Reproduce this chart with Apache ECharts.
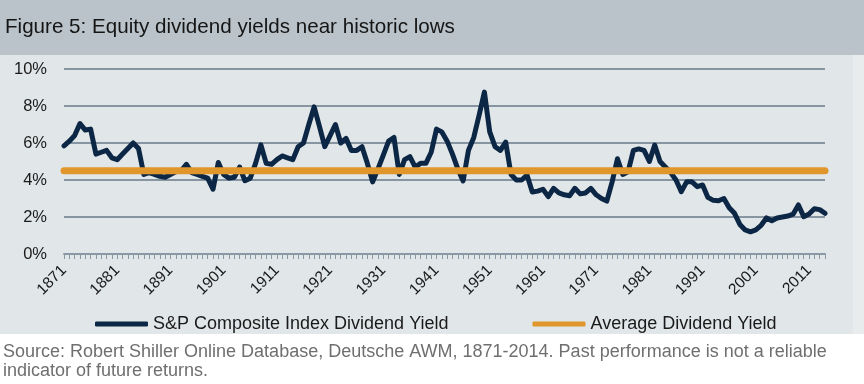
<!DOCTYPE html>
<html>
<head>
<meta charset="utf-8">
<script src="https://cdn.jsdelivr.net/npm/echarts@6/dist/echarts.min.js"></script>
<style>html,body{margin:0;padding:0;background:#fff;}#c{width:864px;height:384px;}</style>
</head>
<body>
<div id="c"></div>
<script>
const startYear = 1871;
const endYear = 2014;
const years = [];
for (let y = startYear; y <= endYear; y++) years.push(String(y));

const dividendYield = [
  5.85, 6.1, 6.4, 7.05, 6.7, 6.75, 5.4, 5.5, 5.6, 5.2,
  5.1, 5.4, 5.7, 6.0, 5.7, 4.3, 4.4, 4.3, 4.2, 4.15,
  4.3, 4.45, 4.5, 4.85, 4.4, 4.3, 4.2, 4.1, 3.5, 4.95,
  4.3, 4.1, 4.15, 4.7, 3.96, 4.1, 4.9, 5.9, 4.9, 4.85,
  5.1, 5.3, 5.2, 5.1, 5.8, 6.0, 7.0, 7.95, 6.9, 5.8,
  6.4, 7.0, 6.0, 6.25, 5.6, 5.6, 5.8, 4.9, 3.9, 4.6,
  5.35, 6.1, 6.3, 4.3, 5.1, 5.26, 4.7, 4.9, 4.9, 5.5,
  6.75, 6.6, 6.1, 5.4, 4.6, 3.95, 5.6, 6.3, 7.5, 8.75,
  6.6, 5.8, 5.6, 6.05, 4.3, 4.0, 4.0, 4.27, 3.35, 3.4,
  3.5, 3.1, 3.55, 3.3, 3.2, 3.15, 3.55, 3.25, 3.3, 3.55,
  3.2, 3.0, 2.86, 3.9, 5.15, 4.3, 4.45, 5.6, 5.68, 5.6,
  5.0, 5.89, 5.0, 4.7, 4.4, 4.0, 3.37, 3.9, 3.9, 3.64,
  3.73, 3.06, 2.9, 2.88, 3.0, 2.5, 2.2, 1.6, 1.3, 1.2,
  1.3, 1.55, 1.95, 1.8, 1.95, 2.0, 2.05, 2.15, 2.65, 2.02,
  2.16, 2.45, 2.4, 2.2
];
const averageYield = 4.5;
const yTicks = [0, 2, 4, 6, 8, 10];

const titleText = 'Figure 5: Equity dividend yields near historic lows';
const sourceLine1 = 'Source: Robert Shiller Online Database, Deutsche AWM, 1871-2014. Past performance is not a reliable';
const sourceLine2 = 'indicator of future returns.';

const FONT = '"Liberation Sans", Arial, sans-serif';
const chart = echarts.init(document.getElementById('c'), null, {renderer: 'canvas'});
chart.setOption({
  animation: false,
  backgroundColor: '#ffffff',
  textStyle: {fontFamily: FONT},
  graphic: [
    {type: 'rect', z: -10, shape: {x: 0, y: 0, width: 864, height: 55}, style: {fill: '#b9c3c9'}},
    {type: 'rect', z: -10, shape: {x: 0, y: 55, width: 864, height: 279}, style: {fill: '#e1e6e8'}},
    {type: 'rect', z: -9, shape: {x: 853, y: 55, width: 11, height: 279}, style: {fill: '#e9eced'}},
    {type: 'text', left: 5, top: 17, style: {text: titleText, font: '20.6px ' + FONT, fill: '#151515'}},
    {type: 'text', left: 3, top: 343, style: {text: sourceLine1, font: '18px ' + FONT, fill: '#6f6f6f'}},
    {type: 'text', left: 3, top: 362, style: {text: sourceLine2, font: '18px ' + FONT, fill: '#6f6f6f'}}
  ],
  grid: {left: 64, right: 39, top: 69, bottom: 130, containLabel: false},
  legend: {
    left: 90, top: 310,
    itemWidth: 53, itemHeight: 5, itemGap: 84,
    icon: 'roundRect',
    textStyle: {fontSize: 18, color: '#1a1a1a', fontFamily: FONT},
    data: ['S&P Composite Index Dividend Yield', 'Average Dividend Yield']
  },
  xAxis: {
    type: 'category',
    data: years,
    boundaryGap: false,
    axisLine: {show: true, lineStyle: {color: '#8a98a6', width: 2}},
    axisTick: {show: true, interval: 0, length: 5, lineStyle: {color: '#8a98a6', width: 1}},
    axisLabel: {interval: 9, rotate: 45, fontSize: 15.5, color: '#1a1a1a', margin: 14, fontFamily: FONT},
    splitLine: {show: false}
  },
  yAxis: {
    type: 'value',
    min: yTicks[0], max: yTicks[yTicks.length - 1], interval: 2,
    axisLine: {show: false},
    axisTick: {show: false},
    axisLabel: {formatter: '{value}%', fontSize: 16.5, color: '#1a1a1a', margin: 17, fontFamily: FONT},
    splitLine: {show: true, lineStyle: {color: '#8794a1', width: 2}}
  },
  series: [
    {
      name: 'S&P Composite Index Dividend Yield',
      type: 'line',
      data: dividendYield,
      showSymbol: false, symbol: 'none',
      color: '#0c2745',
      lineStyle: {color: '#0c2745', width: 5, join: 'round', cap: 'round'},
      z: 3
    },
    {
      name: 'Average Dividend Yield',
      type: 'line',
      data: [[years[0], averageYield], [years[years.length - 1], averageYield]],
      showSymbol: false, symbol: 'none',
      color: '#e0962a',
      lineStyle: {color: '#e0962a', width: 7, cap: 'round'},
      z: 4
    }
  ]
});
</script>
</body>
</html>
